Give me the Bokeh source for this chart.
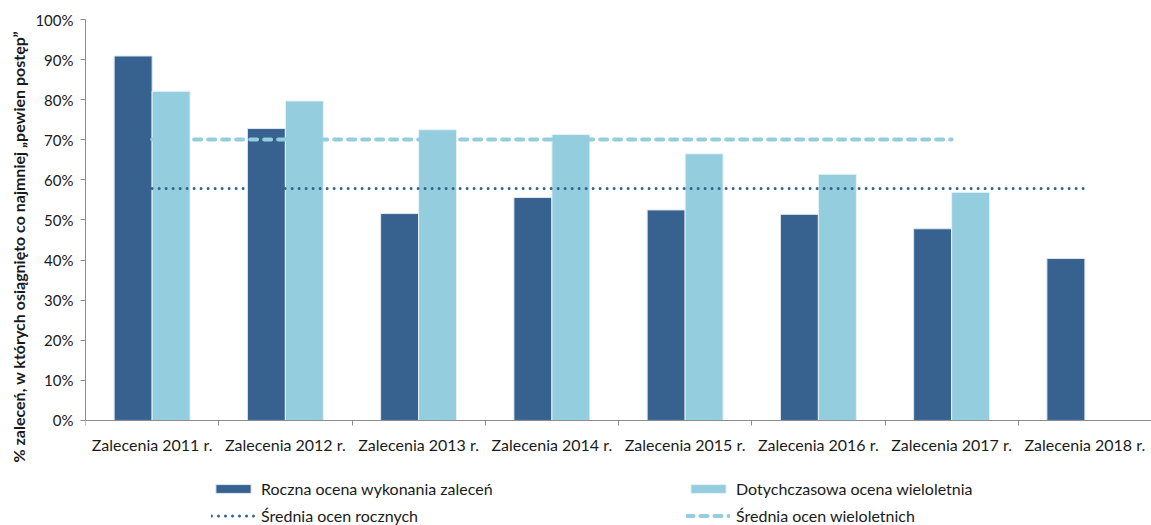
from bokeh.plotting import figure
from bokeh.models import ColumnDataSource, FixedTicker, Legend, LegendItem, Title
from bokeh.embed import file_html
from bokeh.resources import INLINE

categories = ["Zalecenia 2011 r.", "Zalecenia 2012 r.", "Zalecenia 2013 r.", "Zalecenia 2014 r.",
              "Zalecenia 2015 r.", "Zalecenia 2016 r.", "Zalecenia 2017 r.", "Zalecenia 2018 r."]
annual = [90.9, 72.8, 51.6, 55.6, 52.5, 51.4, 47.8, 40.4]
multi = [82.1, 79.7, 72.5, 71.3, 66.5, 61.4, 56.9]
y_ticks = [0, 10, 20, 30, 40, 50, 60, 70, 80, 90, 100]
y_tick_labels = [f"{t}%" for t in y_ticks]
series_names = ["Roczna ocena wykonania zaleceń", "Dotychczasowa ocena wieloletnia",
                "Średnia ocen rocznych", "Średnia ocen wieloletnich"]
y_title = "% zaleceń, w których osiągnięto co najmniej „pewien postęp”"

DARK = "#37618f"
LIGHT = "#94cddd"
AXIS = "#8c8c8c"
TXT = "#1a1a1a"
FONT = "Lato"
BAR_W = 0.285

centers = [i + 0.5 for i in range(len(categories))]
src_a = ColumnDataSource(dict(x=[c - BAR_W / 2 for c in centers], top=annual))
src_m = ColumnDataSource(dict(x=[c + BAR_W / 2 for c in centers[:len(multi)]], top=multi))

avg_a = sum(annual) / len(annual)
avg_m = sum(multi) / len(multi)

# frame runs to the bottom of the canvas; the value axis starts below zero so the
# category labels and the legend sit inside the frame under the zero line
p = figure(width=1151, height=525, x_range=(0, len(categories)), y_range=(-26.2, 100),
           output_backend="svg", toolbar_location=None,
           min_border_left=85, min_border_right=0, min_border_top=19, min_border_bottom=0)
p.outline_line_color = None
p.grid.grid_line_color = None

r_a = p.vbar(x="x", top="top", width=BAR_W, bottom=0, source=src_a,
             fill_color=DARK, line_color="#dfe8f0", line_width=1)
r_m = p.vbar(x="x", top="top", width=BAR_W, bottom=0, source=src_m,
             fill_color=LIGHT, line_color="#e6f3f7", line_width=1)

r_la = p.line(x=[centers[0], centers[len(annual) - 1]], y=[avg_a, avg_a],
              line_color=DARK, line_width=3, line_dash="0 7", line_cap="round")
r_lm = p.line(x=[centers[0], centers[len(multi) - 1]], y=[avg_m, avg_m],
              line_color=LIGHT, line_width=4, line_dash="7 7", line_cap="round")

# y axis
ya = p.yaxis[0]
ya.ticker = FixedTicker(ticks=y_ticks)
ya.bounds = (0, 100)
ya.major_label_overrides = {t: l for t, l in zip(y_ticks, y_tick_labels)}
ya.major_tick_out = 5
ya.major_tick_in = 0
ya.minor_tick_out = 0
ya.minor_tick_in = 0
ya.axis_line_color = AXIS
ya.major_tick_line_color = AXIS
ya.major_label_text_font = FONT
ya.major_label_text_font_size = "15px"
ya.major_label_text_color = TXT
ya.major_label_standoff = 7

# x axis at zero
xa = p.xaxis[0]
xa.fixed_location = 0
xa.ticker = FixedTicker(ticks=centers, minor_ticks=list(range(len(categories) + 1)))
xa.major_label_overrides = {c: n for c, n in zip(centers, categories)}
xa.major_tick_out = 0
xa.major_tick_in = 0
xa.minor_tick_out = 5
xa.minor_tick_in = 0
xa.minor_tick_line_color = AXIS
xa.axis_line_color = AXIS
xa.major_label_text_font = FONT
xa.major_label_text_font_size = "16px"
xa.major_label_text_color = TXT
xa.major_label_standoff = 10

# rotated y title
p.add_layout(Title(text=y_title, align="left", offset=63, standoff=9,
                   text_font=FONT, text_font_style="bold", text_font_size="16px",
                   text_color=TXT), "left")

legend = Legend(items=[LegendItem(label=series_names[0], renderers=[r_a]),
                       LegendItem(label=series_names[1], renderers=[r_m]),
                       LegendItem(label=series_names[2], renderers=[r_la]),
                       LegendItem(label=series_names[3], renderers=[r_lm])],
                orientation="horizontal", ncols=2,
                location=(126, 0), padding=0, margin=0, spacing=8,
                glyph_width=44, glyph_height=11, label_standoff=6, label_width=417,
                label_text_font=FONT, label_text_font_size="16px", label_text_color=TXT,
                border_line_alpha=0, background_fill_alpha=0)
p.add_layout(legend)

open("out.html", "w").write(file_html(p, INLINE))
